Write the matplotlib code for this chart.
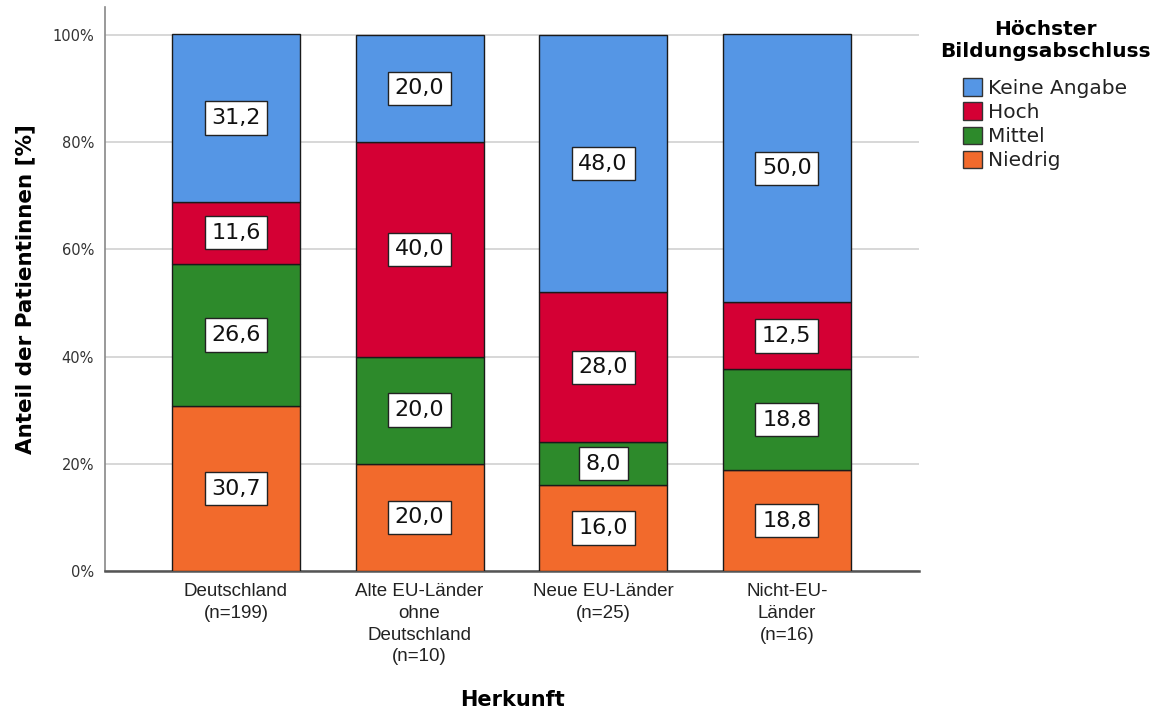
import matplotlib
matplotlib.use("Agg")
import matplotlib.pyplot as plt
import numpy as np
from matplotlib.patches import Patch

categories = ["Deutschland\n(n=199)", "Alte EU-Länder\nohne\nDeutschland\n(n=10)",
              "Neue EU-Länder\n(n=25)", "Nicht-EU-\nLänder\n(n=16)"]
series_names = ["Niedrig", "Mittel", "Hoch", "Keine Angabe"]
niedrig = [30.7, 20.0, 16.0, 18.8]
mittel = [26.6, 20.0, 8.0, 18.8]
hoch = [11.6, 40.0, 28.0, 12.5]
keine_angabe = [31.2, 20.0, 48.0, 50.0]
yticks = [0, 20, 40, 60, 80, 100]

colors = {"Niedrig": "#f26a2c", "Mittel": "#2d8a2b", "Hoch": "#d40034", "Keine Angabe": "#5596e5"}
series = [niedrig, mittel, hoch, keine_angabe]

fig = plt.figure(figsize=(11.65, 7.13), dpi=100)
ax = fig.add_axes([105/1165, 1-571/713, (919-105)/1165, (571-7)/713])

x = np.arange(len(categories))
bottom = np.zeros(len(categories))
width = 0.697
for name, vals in zip(series_names, series):
    vals = np.array(vals)
    ax.bar(x, vals, width, bottom=bottom, color=colors[name], edgecolor="#1a1a1a",
           linewidth=1.0, zorder=3)
    for xi, b, v in zip(x, bottom, vals):
        ax.text(xi, b + v/2, f"{v:.1f}".replace(".", ","), ha="center", va="center",
                fontsize=16, color="#111111", zorder=5,
                bbox=dict(boxstyle="square,pad=0.3", facecolor="white", edgecolor="#222222", linewidth=1.0))
    bottom = bottom + vals

ax.set_xlim(-0.713, 3.72)
ax.set_ylim(0, 105.2)
ax.set_yticks(yticks)
ax.set_yticklabels([f"{t}%" for t in yticks], fontsize=10.5, color="#333333")
ax.set_xticks(x)
ax.set_xticklabels(categories, fontsize=13.5, color="#222222",
                   family=["Liberation Sans", "DejaVu Sans"], linespacing=1.35)
ax.tick_params(axis="both", length=0)
ax.tick_params(axis="y", pad=8)
ax.tick_params(axis="x", pad=9)
ax.yaxis.grid(True, color="#d4d4d4", linewidth=1.3, zorder=0)
ax.set_axisbelow(True)
for s in ["top", "right"]:
    ax.spines[s].set_visible(False)
ax.spines["left"].set_color("#888888")
ax.spines["left"].set_linewidth(1.2)
ax.spines["bottom"].set_color("#555555")
ax.spines["bottom"].set_linewidth(1.8)

ax.set_ylabel("Anteil der Patientinnen [%]", fontsize=15.5, fontweight="bold", labelpad=12)
ax.set_xlabel("Herkunft", fontsize=15, fontweight="bold", va="center")
ax.xaxis.set_label_coords(0.5, (571 - 700) / 564)

handles = [Patch(facecolor=colors[n], edgecolor="#333333", linewidth=1.0) for n in reversed(series_names)]
leg = fig.legend(handles, list(reversed(series_names)), loc="upper center",
                 bbox_to_anchor=(1045/1165, 1-10/713), frameon=False,
                 title="Höchster\nBildungsabschluss", fontsize=14.5,
                 title_fontproperties={"weight": "bold", "size": 14.5},
                 handlelength=0.95, handleheight=0.95, handletextpad=0.3,
                 labelspacing=0.22, borderpad=0)
leg.get_title().set_multialignment("center")
leg._legend_box.align = "center"
leg._legend_box.sep = 12.5
for t in leg.get_texts():
    t.set_color("#222222")

fig.savefig("out.png", dpi=100)
